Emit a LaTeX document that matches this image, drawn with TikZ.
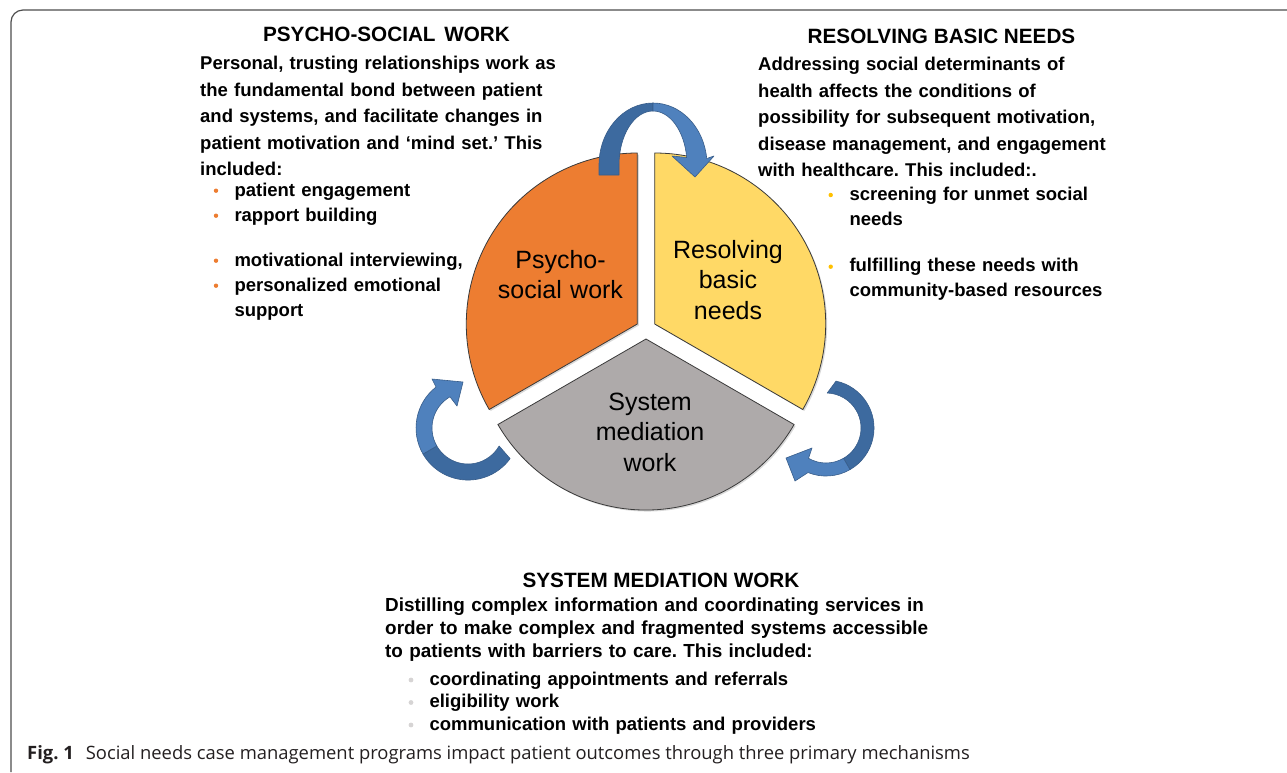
\documentclass[tikz,border=0pt]{standalone}
\usepackage{fontspec}
\setmainfont{Liberation Sans}
\newfontfamily\capfont{Open Sans}
\usetikzlibrary{shadows}
\frenchspacing

\definecolor{psyor}{HTML}{ED7D31}
\definecolor{resyel}{HTML}{FFD966}
\definecolor{medgray}{HTML}{AEAAAA}
\definecolor{slicedge}{HTML}{3A3A3A}
\definecolor{arrlight}{HTML}{4F81BD}
\definecolor{arrdark}{HTML}{3D6A9F}
\definecolor{arredge}{HTML}{385D8A}
\definecolor{bulyel}{HTML}{FFC000}
\definecolor{bulgray}{HTML}{D6D4D4}
\definecolor{framegray}{HTML}{4D4D4D}
\definecolor{capgray}{HTML}{231F20}

\tikzset{
  slice/.style={draw=slicedge,line width=.8pt,
    drop shadow={shadow xshift=1.5pt,shadow yshift=-1.5pt,opacity=.3}},
  arrpart/.style={fill=#1,draw=arredge,line width=.6pt,line join=round},
  hd/.style={font=\bfseries\fontsize{20.7}{24}\selectfont,inner sep=0,anchor=base},
  body/.style={font=\bfseries\fontsize{18.5}{#1}\selectfont,inner sep=0,
    anchor=base west,align=left,text width=600pt},
  pielabel/.style={font=\fontsize{25}{30.5}\selectfont,inner sep=0,
    anchor=base,align=center,text width=160pt},
}

\begin{document}
\begin{tikzpicture}[x=1pt,y=-1pt]
  \useasboundingbox (0,0) rectangle (1287,772);
  \draw[framegray,line width=1.2pt] (11,772) -- (11,22) arc[start angle=180,end angle=270,radius=12] -- (1287,10);

  % exploded pie
  \fill[psyor,slice] (637.3,324) -- ++(150:171) arc[start angle=150,end angle=270,radius=171] -- cycle;
  \fill[resyel,slice] (654.7,324) -- ++(-90:171) arc[start angle=-90,end angle=30,radius=171] -- cycle;
  \fill[medgray,slice] (646,339) -- ++(30:171) arc[start angle=30,end angle=150,radius=171] -- cycle;

  \node[pielabel] (psylbl) at (560.5,268.3) {Psycho-\\social work};
  \node[pielabel] (reslbl) at (728,258.3) {Resolving\\basic\\needs};
  \node[pielabel] (medlbl) at (650,410) {System\\mediation\\work};

  % curved arrows
  \draw[arrpart=arrdark] (599,175) -- (599,165) arc[start angle=180,end angle=270,x radius=54,y radius=62]
    -- (653,111) arc[start angle=270,end angle=180,x radius=34,y radius=54] -- (619,175) -- cycle;
  \draw[arrpart=arrlight] (653,103) arc[start angle=270,end angle=354,x radius=54,y radius=62]
    -- (714,156) -- (695,177) -- (672,156) -- (686.7,157.5)
    arc[start angle=352,end angle=270,x radius=34,y radius=54] -- cycle;

  \draw[arrpart=arrdark] (510.1,458.6) arc[start angle=36,end angle=150,radius=52]
    -- (436.8,446) arc[start angle=150,end angle=30,radius=36] -- cycle;
  \draw[arrpart=arrlight] (423,454) arc[start angle=150,end angle=232,radius=52]
    -- (432,379) -- (463,382) -- (457,406) -- (450,396.8)
    arc[start angle=240,end angle=150,radius=36] -- cycle;

  \draw[arrpart=arrdark] (836,381.1) arc[start angle=-78,end angle=60,radius=48]
    -- (843.5,458.3) arc[start angle=60,end angle=-88,radius=35] -- cycle;
  \draw[arrpart=arrlight] (850,469.6) arc[start angle=60,end angle=112,radius=48]
    -- (795,481) -- (786,458) -- (812,448) -- (808.5,458.3)
    arc[start angle=120,end angle=60,radius=35] -- cycle;

  % psycho-social text
  \node[hd] (psyhd) at (386.5,41) {PSYCHO-SOCIAL\hspace{3pt} WORK};
  \node[body=26.5] (psytxt) at (200,69.5) {Personal, trusting relationships work as\\
    the fundamental bond between patient\\
    and systems, and facilitate changes in\\
    patient motivation and ‘mind set.’ This\\
    included:};
  \node[body=25] (psylist) at (234.3,196.7) {patient engagement\\
    rapport building\\[20pt]
    motivational interviewing,\\
    personalized emotional\\
    support};
  \foreach \y in {196.7,221.7,266.7,291.7}
    \fill[psyor] (216,\y-6) circle (2.2);

  % basic needs text
  \node[hd] (reshd) at (941.5,43) {RESOLVING BASIC NEEDS};
  \node[body=26.5] (restxt) at (758,70.5) {Addressing social determinants of\\
    health affects the conditions of\\
    possibility for subsequent motivation,\\
    disease management, and engagement\\
    with healthcare. This included:.};
  \node[body=25] (reslist) at (849.3,200) {screening for unmet social\\
    needs\\[21.7pt]
    fulfilling these needs with\\
    community-based resources};
  \foreach \y in {200,271.7}
    \fill[bulyel] (830.7,\y-5) circle (2.2);

  % system mediation text
  \node[hd] (medhd) at (661,587) {SYSTEM MEDIATION WORK};
  \node[body=23,font=\bfseries\fontsize{18.9}{23}\selectfont] (medtxt) at (385,611) {Distilling complex information and coordinating services in\\
    order to make complex and fragmented systems accessible\\
    to patients with barriers to care. This included:};
  \node[body=22.5] (medlist) at (429.3,685) {coordinating appointments and referrals\\
    eligibility work\\
    communication with patients and providers};
  \foreach \y in {685,707.5,730}
    \fill[bulgray] (411,\y-5) circle (2.4);

  \node[anchor=base west,inner sep=0,text=capgray,font=\capfont\fontsize{18.4}{22}\selectfont] (caption) at (27,759)
    {\textbf{Fig. 1}\hspace{12pt}Social needs case management programs impact patient outcomes through three primary mechanisms};
\end{tikzpicture}
\end{document}
